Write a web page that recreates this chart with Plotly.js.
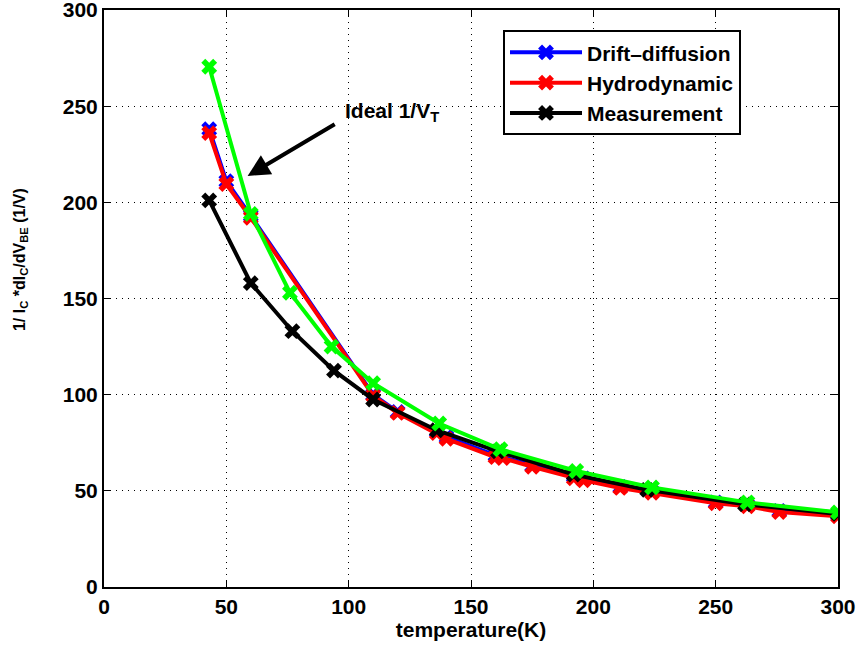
<!DOCTYPE html>
<html>
<head>
<meta charset="utf-8">
<script src="https://cdn.plot.ly/plotly-3.0.1.min.js"></script>
<style>html,body{margin:0;padding:0;background:#fff;}#chart{width:860px;height:649px;}</style>
</head>
<body>
<div id="chart"></div>
<script>
// Drift-diffusion simulation
const ddT = [43, 50, 60, 110, 120, 136, 140, 160, 163, 175, 192, 196, 211, 224, 250, 263, 276, 300];
const ddV = [238, 211, 193, 100, 91, 81, 78, 68.5, 67.5, 63, 57.5, 56.5, 52, 49.5, 44, 42.5, 39.5, 37.5];
// Hydrodynamic simulation
const hdT = [43, 50, 60, 110, 120, 136, 140, 160, 163, 175, 192, 196, 211, 224, 250, 263, 276, 300];
const hdV = [236, 209.5, 192, 99.5, 90.5, 80, 77, 67.5, 67, 62.5, 56.5, 55.5, 51.5, 49, 43.5, 42, 39, 36.8];
// Measurement
const msT = [43, 60, 77, 94, 110, 136, 161, 192, 222, 262, 300];
const msV = [201, 158, 133, 112.5, 97.5, 81.5, 70.5, 58.5, 50.5, 43, 38];
// Ideal 1/V_T
const idT = [43, 60, 76, 93, 110, 137, 162, 193, 224, 263, 300];
const idV = [270.5, 194, 153, 125, 106, 85, 71.6, 60.3, 51.8, 44, 38.8];

const xTicks = [0, 50, 100, 150, 200, 250, 300];
const yTicks = [0, 50, 100, 150, 200, 250, 300];

function tr(x, y, name, color, show) {
  return {
    x: x, y: y, name: name, type: 'scatter', mode: 'lines+markers',
    showlegend: show,
    line: {color: color, width: 4},
    marker: {symbol: 'x', size: 14, color: color, line: {width: 0}}
  };
}

const data = [
  tr(ddT, ddV, '<b>Drift\u2013diffusion</b>', '#0000ff', true),
  tr(hdT, hdV, '<b>Hydrodynamic</b>', '#ff0000', true),
  tr(msT, msV, '<b>Measurement</b>', '#000000', true),
  tr(idT, idV, 'Ideal 1/V<sub>T</sub>', '#00ff00', false)
];

const fnt = {family: 'Liberation Sans, Arial, sans-serif', size: 21, color: '#000', weight: 700};
const yfnt = Object.assign({}, fnt, {size: 16});
const lfnt = Object.assign({}, fnt, {size: 21});

const axisBase = {
  showline: true, linecolor: '#000', linewidth: 2, mirror: 'ticks',
  ticks: 'inside', ticklen: 7, tickwidth: 1, tickcolor: '#000',
  showgrid: true, gridcolor: '#000', gridwidth: 1, griddash: '1px,5px',
  zeroline: false, tickfont: fnt, ticklabeloverflow: 'allow'
};

const layout = {
  width: 860, height: 649,
  margin: {l: 104, r: 22, t: 10, b: 62},
  paper_bgcolor: '#fff', plot_bgcolor: '#fff',
  font: fnt,
  xaxis: Object.assign({}, axisBase, {
    range: [0, 300], tickvals: xTicks, ticktext: xTicks.map(v => '<b>' + v + '</b>'),
    title: {text: '<b>temperature(K)</b>', font: fnt, standoff: 2}
  }),
  yaxis: Object.assign({}, axisBase, {
    range: [0, 300], tickvals: yTicks, ticktext: yTicks.map(v => '<b>' + v + '</b>')
  }),
  legend: {
    x: 0.5436, y: 0.965, xanchor: 'left', yanchor: 'top',
    bordercolor: '#000', borderwidth: 2, bgcolor: '#fff',
    font: lfnt, tracegroupgap: 0, itemwidth: 72
  },
  annotations: [
    {x: -0.1144, y: 0.5667, xref: 'paper', yref: 'paper', xanchor: 'center', yanchor: 'middle',
     textangle: -90, showarrow: false, font: yfnt,
     text: '<b>1/ I<sub>C</sub> *dI<sub>C</sub>/dV<sub>BE</sub> (1/V)</b>'},
    {x: 58.7, y: 213.7, ax: 94.9, ay: 241.1, axref: 'x', ayref: 'y', xref: 'x', yref: 'y',
     text: '', showarrow: true, arrowhead: 2, arrowsize: 1.1, arrowwidth: 4, arrowcolor: '#000'},
    {x: 97.5, y: 247, xref: 'x', yref: 'y', xanchor: 'left', yanchor: 'middle',
     text: '<b>Ideal 1/V<sub>T</sub></b>', showarrow: false, font: fnt}
  ],
  showlegend: true
};

Plotly.newPlot('chart', data, layout, {displayModeBar: false, staticPlot: true});
</script>
</body>
</html>
